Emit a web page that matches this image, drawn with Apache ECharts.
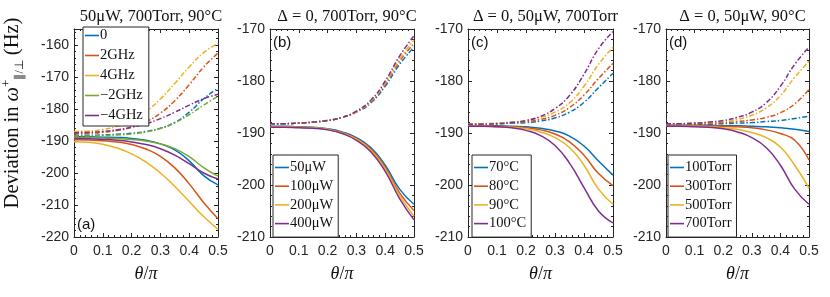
<!DOCTYPE html>
<html><head><meta charset="utf-8">
<script src="https://cdn.jsdelivr.net/npm/echarts@6/dist/echarts.min.js"></script>
<style>html,body{margin:0;padding:0;background:#fff}#c{width:830px;height:297px}</style>
</head><body><div id="c"></div>
<script>
// ---------------- data ----------------
const theta = [0, 0.05, 0.1, 0.15, 0.2, 0.25, 0.3, 0.35, 0.4, 0.45, 0.5];
const xTickLabels = ['0', '0.1', '0.2', '0.3', '0.4', '0.5'];
const titles = ['50\u03bcW, 700Torr, 90\u00b0C', '\u0394 = 0, 700Torr, 90\u00b0C', '\u0394 = 0, 50\u03bcW, 700Torr', '\u0394 = 0, 50\u03bcW, 90\u00b0C'];
const panelLabels = ['(a)', '(b)', '(c)', '(d)'];

// reference curve (Δ=0, 50μW, 700Torr, 90°C) shared by all panels
const refSolid = [-188.7, -188.7, -188.8, -188.9, -189.2, -189.8, -190.9, -192.8, -196.2, -200.8, -203.7];
const refDash  = [-188.2, -188.2, -188.1, -187.9, -187.6, -187.0, -186.0, -184.2, -181.0, -176.8, -173.5];

// panel (a): detuning
const aNames = ['0', '2GHz', '4GHz', '\u22122GHz', '\u22124GHz'];
const aSolid2  = [-189.6, -189.7, -189.9, -190.3, -191.1, -192.5, -194.8, -198.4, -203.4, -209.2, -214.3];
const aSolid4  = [-190.2, -190.4, -191.0, -192.2, -194.0, -196.6, -200.0, -204.2, -208.9, -213.6, -217.6];
const aSolidM2 = [-189.0, -189.0, -189.1, -189.2, -189.5, -190.0, -190.9, -192.4, -194.9, -198.3, -201.0];
const aSolidM4 = [-189.2, -189.3, -189.5, -189.8, -190.3, -191.1, -192.4, -194.4, -197.1, -200.0, -201.9];
const aDash2   = [-187.7, -187.6, -187.3, -186.7, -185.7, -184.0, -181.3, -177.4, -172.4, -166.9, -162.5];
const aDash4   = [-187.0, -186.9, -186.4, -185.4, -183.6, -180.8, -176.9, -172.0, -166.9, -162.4, -159.5];
const aDashM2  = [-188.4, -188.4, -188.3, -188.1, -187.8, -187.2, -186.1, -184.3, -181.8, -178.8, -176.0];
const aDashM4  = [-187.4, -187.3, -187.0, -186.5, -185.7, -184.6, -183.0, -181.0, -178.8, -176.8, -175.4];

// panel (b): power
const bNames = ['50\u03bcW', '100\u03bcW', '200\u03bcW', '400\u03bcW'];
const bSolid100 = [-188.8, -188.8, -188.9, -189.0, -189.3, -189.9, -191.1, -193.1, -196.6, -201.5, -204.9];
const bSolid200 = [-188.8, -188.8, -188.9, -189.0, -189.3, -190.0, -191.2, -193.3, -196.9, -202.0, -206.0];
const bSolid400 = [-188.9, -188.9, -189.0, -189.1, -189.4, -190.1, -191.4, -193.6, -197.4, -202.6, -206.7];
const bDash100  = [-188.2, -188.2, -188.1, -187.9, -187.6, -187.0, -185.9, -184.0, -180.6, -176.2, -172.8];
const bDash200  = [-188.2, -188.2, -188.1, -187.9, -187.6, -187.0, -185.9, -183.9, -180.4, -175.8, -172.1];
const bDash400  = [-188.2, -188.2, -188.1, -187.9, -187.6, -187.0, -185.8, -183.7, -180.0, -175.2, -171.3];

// panel (c): temperature
const cNames = ['70\u00b0C', '80\u00b0C', '90\u00b0C', '100\u00b0C'];
const cSolid70  = [-188.6, -188.6, -188.6, -188.7, -188.8, -189.1, -189.6, -190.6, -192.5, -195.4, -198.1];
const cSolid80  = [-188.6, -188.6, -188.7, -188.8, -189.0, -189.4, -190.2, -191.7, -194.3, -197.8, -200.1];
const cSolid100 = [-188.7, -188.7, -188.8, -189.0, -189.5, -190.5, -192.4, -195.8, -200.5, -205.0, -207.3];
const cDash70   = [-188.2, -188.2, -188.2, -188.1, -188.0, -187.7, -187.1, -186.0, -184.1, -181.3, -178.5];
const cDash80   = [-188.2, -188.2, -188.2, -188.0, -187.8, -187.4, -186.6, -185.1, -182.7, -179.5, -176.6];
const cDash100  = [-188.3, -188.3, -188.2, -188.0, -187.6, -186.8, -185.3, -182.8, -178.7, -173.8, -170.5];

// panel (d): pressure
const dNames = ['100Torr', '300Torr', '500Torr', '700Torr'];
const dSolid100 = [-188.5, -188.5, -188.5, -188.5, -188.6, -188.6, -188.7, -188.8, -189.0, -189.3, -189.7];
const dSolid300 = [-188.6, -188.6, -188.6, -188.6, -188.7, -188.8, -189.0, -189.4, -190.1, -191.4, -195.2];
const dSolid500 = [-188.7, -188.7, -188.7, -188.8, -189.0, -189.3, -189.9, -190.9, -192.7, -196.2, -200.6];
const dDash100  = [-188.3, -188.3, -188.3, -188.3, -188.2, -188.1, -188.0, -187.8, -187.6, -187.2, -186.8];
const dDash300  = [-188.2, -188.2, -188.2, -188.1, -188.0, -187.8, -187.5, -187.0, -186.1, -184.4, -181.6];
const dDash500  = [-188.2, -188.2, -188.1, -188.0, -187.8, -187.4, -186.6, -185.2, -182.8, -179.3, -176.2];

const yRanges = [[-220, -155], [-210, -170], [-210, -170], [-210, -170]];

// ---------------- styling ----------------
const C = {blue: '#0072BD', red: '#D95319', yellow: '#EDB120', purple: '#7E2F8E', green: '#77AC30'};
const AX = '#262626';
const SERIF = '"Liberation Serif", "Times New Roman", serif';
const SANS = '"Liberation Sans", Arial, sans-serif';

const panels = [
  {names: aNames, colors: [C.blue, C.red, C.yellow, C.green, C.purple],
   solid: [refSolid, aSolid2, aSolid4, aSolidM2, aSolidM4], dash: [refDash, aDash2, aDash4, aDashM2, aDashM4]},
  {names: bNames, colors: [C.blue, C.red, C.yellow, C.purple],
   solid: [refSolid, bSolid100, bSolid200, bSolid400], dash: [refDash, bDash100, bDash200, bDash400]},
  {names: cNames, colors: [C.blue, C.red, C.yellow, C.purple],
   solid: [cSolid70, cSolid80, refSolid, cSolid100], dash: [cDash70, cDash80, refDash, cDash100]},
  {names: dNames, colors: [C.blue, C.red, C.yellow, C.purple],
   solid: [dSolid100, dSolid300, dSolid500, refSolid], dash: [dDash100, dDash300, dDash500, refDash]}
];

const grids = [
  {left: 74, top: 29, width: 144, height: 208},
  {left: 270, top: 29, width: 144, height: 208},
  {left: 468, top: 29, width: 145, height: 208},
  {left: 666, top: 29, width: 143, height: 208}
];

const xAxis = [], yAxis = [], series = [], legend = [], title = [], graphic = [];
grids.forEach((g, i) => {
  const tickBase = {show: true, inside: true, length: 4, lineStyle: {color: AX, width: 1}};
  const minorBase = {show: true, splitNumber: 5, length: 2, lineStyle: {color: AX, width: 1}};
  const common = {type: 'value', gridIndex: i, splitLine: {show: false},
    axisLine: {show: true, onZero: false, lineStyle: {color: AX, width: 1}},
    axisTick: tickBase, minorTick: minorBase, minorSplitLine: {show: false}};
  xAxis.push(Object.assign({}, common, {position: 'bottom', min: 0, max: 0.5, interval: 0.1,
    axisLabel: {show: true, color: AX, fontFamily: SANS, fontSize: 14, margin: 7,
      formatter: v => xTickLabels[Math.round(v * 10)]},
    name: '{i|\u03b8}{n|/}{i|\u03c0}', nameLocation: 'middle', nameGap: 28,
    nameTextStyle: {rich: {i: {fontFamily: SERIF, fontStyle: 'italic', fontSize: 18, color: '#111'},
                           n: {fontFamily: SERIF, fontSize: 18, color: '#111'}}}}));
  xAxis.push(Object.assign({}, common, {position: 'top', min: 0, max: 0.5, interval: 0.1, axisLabel: {show: false}}));
  yAxis.push(Object.assign({}, common, {position: 'left', min: yRanges[i][0], max: yRanges[i][1], interval: 10,
    axisLabel: {show: true, color: AX, fontFamily: SANS, fontSize: 14, margin: 5, showMaxLabel: yRanges[i][1] % 10 === 0}}));
  yAxis.push(Object.assign({}, common, {position: 'right', min: yRanges[i][0], max: yRanges[i][1], interval: 10, axisLabel: {show: false}}));

  const p = panels[i];
  p.names.forEach((nm, k) => {
    series.push({type: 'line', name: nm, xAxisIndex: 2 * i, yAxisIndex: 2 * i, symbol: 'none', showSymbol: false,
      smooth: 0.5, color: p.colors[k], lineStyle: {width: 1.5, color: p.colors[k]},
      data: theta.map((t, j) => [t, p.solid[k][j]]), animation: false, z: 3});
    series.push({type: 'line', name: nm + ' dash', xAxisIndex: 2 * i, yAxisIndex: 2 * i, symbol: 'none', showSymbol: false,
      smooth: 0.5, color: p.colors[k], lineStyle: {width: 1.5, color: p.colors[k], type: [5, 2, 1.5, 2]},
      data: theta.map((t, j) => [t, p.dash[k][j]]), animation: false, z: 3});
  });

  const isA = i === 0;
  const legendLeft = [83, 273, 472, 668][i];
  legend.push({data: p.names.map(n => ({name: n, icon: 'rect'})), orient: 'vertical', left: legendLeft, top: isA ? 27 : 155,
    itemWidth: 14, itemHeight: 1.6, itemGap: isA ? 5 : 3.7,
    padding: isA ? [1, 6, 3, 2] : [5, 5, 6, 2],
    backgroundColor: '#fff', borderColor: AX, borderWidth: 1, borderRadius: 0,
    textStyle: {fontFamily: SERIF, fontSize: 14.5, color: '#111', lineHeight: 14, padding: [0, 0, 0, -4]},
    selectedMode: false, z: 10});

  title.push({text: titles[i], left: g.left + g.width / 2, textAlign: 'center', top: 3,
    textStyle: {fontFamily: SERIF, fontWeight: 'normal', fontSize: 16.5, color: '#111'}});

  graphic.push({type: 'text', z: 20,
    left: g.left + 3, top: isA ? 217 : 35,
    style: {text: panelLabels[i], font: '15px ' + SANS, fill: '#111'}});
});

graphic.push({type: 'text', z: 20, x: 13, y: 113, rotation: Math.PI / 2,
  style: {text: '{n|Deviation in }{w|\u03c9}{sup|+}{sub|\u2225/\u22a5}{n| (Hz)}',
    align: 'center', verticalAlign: 'middle',
    rich: {
      n: {fontFamily: SERIF, fontSize: 20.5, fill: '#111', lineHeight: 26},
      w: {fontFamily: SERIF, fontStyle: 'italic', fontSize: 20.5, fill: '#111', lineHeight: 26},
      sup: {fontFamily: SERIF, fontSize: 13, fill: '#111', verticalAlign: 'top', lineHeight: 14},
      sub: {fontFamily: SERIF, fontSize: 12, fill: '#111', verticalAlign: 'bottom', lineHeight: 12}
    }}});

const chart = echarts.init(document.getElementById('c'), null, {renderer: 'canvas'});
chart.setOption({animation: false, backgroundColor: '#fff', grid: grids.map(g => Object.assign({containLabel: false}, g)),
  xAxis, yAxis, series, legend, title, graphic});
</script></body></html>
